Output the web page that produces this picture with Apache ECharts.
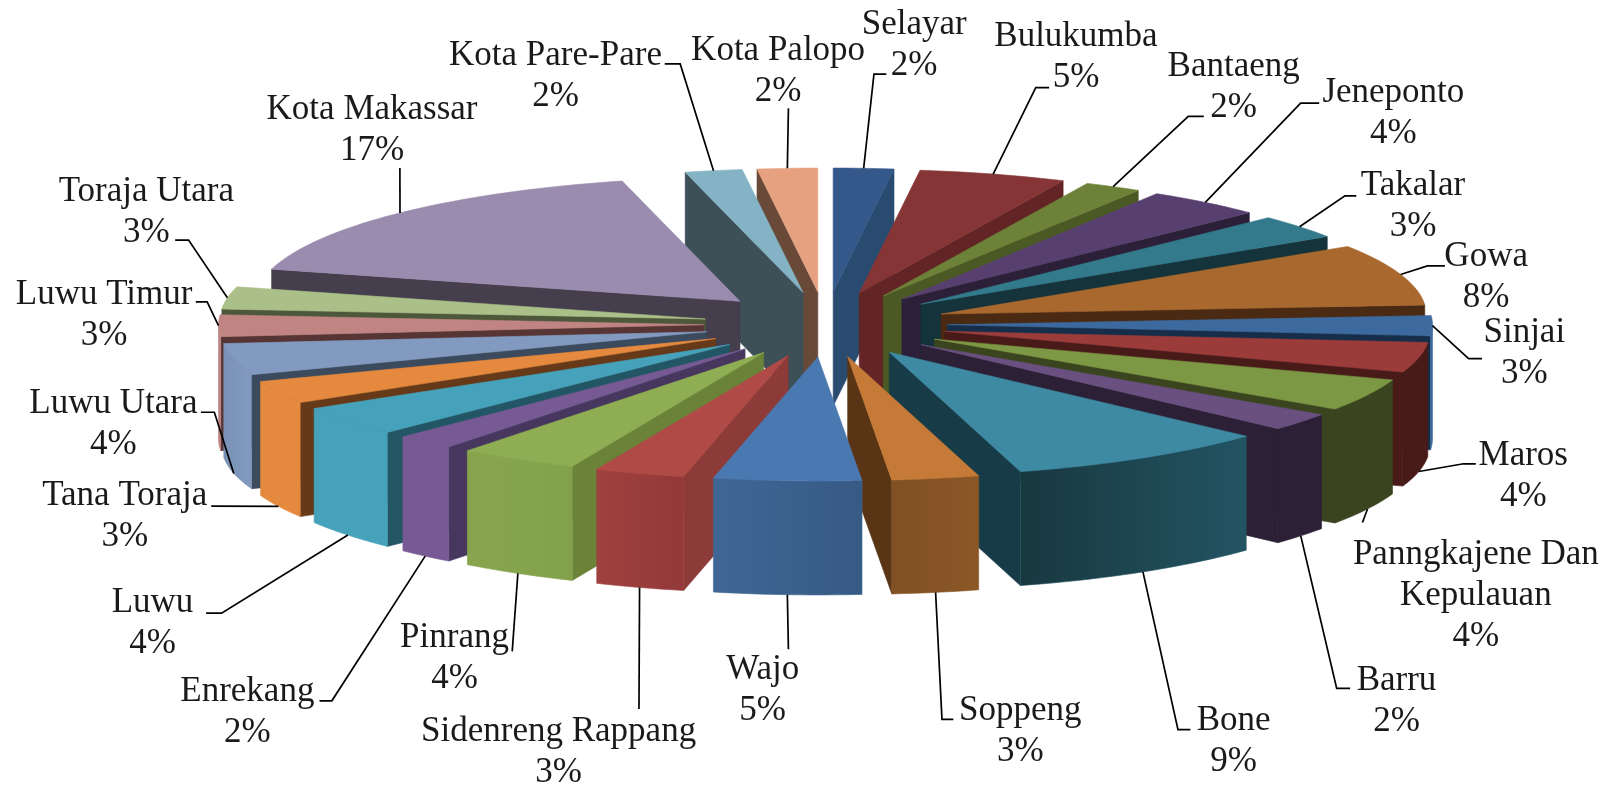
<!DOCTYPE html>
<html>
<head>
<meta charset="utf-8">
<style>html,body{margin:0;padding:0;background:#fff}#c{width:1616px;height:787px}</style>
<script src="https://cdn.jsdelivr.net/npm/echarts@6/dist/echarts.min.js"></script>
</head>
<body>
<div id="c"></div>
<script>
// ---- data ----
const categories = ['Selayar','Bulukumba','Bantaeng','Jeneponto','Takalar','Gowa','Sinjai','Maros',
  'Panngkajene Dan\nKepulauan','Barru','Bone','Soppeng','Wajo','Sidenreng Rappang','Pinrang','Enrekang',
  'Luwu','Tana Toraja','Luwu Utara','Luwu Timur','Toraja Utara','Kota Makassar','Kota Pare-Pare','Kota Palopo'];
const shares = [2,4.9,1.9,3.9,3.1,8,2.6,3.9,4.2,2.3,8.8,2.9,4.9,3,4,2,3.9,3,4.1,2.8,2.9,16.9,1.9,2];
const percentLabels = ['2%','5%','2%','4%','3%','8%','3%','4%','4%','2%','9%','3%','5%','3%','4%','2%','4%','3%','4%','3%','3%','17%','2%','2%'];

// ---- colours ----
const topColors = ['#34588a','#853535','#6c8238','#57406f','#337a8c','#a9682e','#3d6a9e','#9b3c3b',
  '#7d9844','#695080','#3f8aa3','#c67a37','#4a78b0','#b04a46','#8fae53','#775a94',
  '#46a1ba','#e4893e','#829abf','#c08583','#abbf88','#9a8cae','#83b3c5','#e6a280'];
const edgeColors = ['#2a4b70','#622424','#4b5a25','#2c2038','#14333b','#4a2a12','#162e49','#481a18',
  '#3a4520','#2b2036','#183c47','#5a3515','#375a85','#8d3b38','#6b8239','#47365e',
  '#235665','#663a19','#3c4a5e','#573535','#4d583a','#443e4d','#3d5057','#694a38'];
const wallLeft = ['#2a4b70','#622424','#4b5a25','#2c2038','#14333b','#4a2a12','#3d6a9e','#481a18',
  '#3a4520','#2b2036','#235463','#8c5727','#3f6694','#9f413e','#88a54e','#775a94',
  '#46a1ba','#e4893e','#7b92b6','#b98280','#abbf88','#9a8cae','#83b3c5','#e6a280'];
const wallRight = ['#2a4b70','#622424','#4b5a25','#2c2038','#14333b','#4a2a12','#3d6a9e','#481a18',
  '#3a4520','#2b2036','#18383f','#805023','#375a85','#93393a','#83a04b','#775a94',
  '#46a1ba','#e4893e','#829abf','#c08583','#abbf88','#9a8cae','#83b3c5','#e6a280'];

// ---- layout ----
const S = 1616 / 1568;
const CX = 825.5, CY = 324.5, EX = 122, EY = 32.5, RX = 485, RY = 124, H = 114;
const FONT_SIZE = 35, LINE_H = 41;
// label block centres and elbow points, in the 1568-wide picture's units
const labelCentres = [[887,44],[1044,56],[1197,85],[1352,110],[1371,200],[1442,269],[1479,343],[1478,462],
  [1432,578],[1355,680],[1197,719],[990,710],[740,670],[542,730],[441,639],[240,691],
  [148,605],[121,501],[110,412],[101,306],[142,206],[361,126],[539,74],[755,69]];
const elbows = [
  [[860,72],[848,72]],[[1018,85],[1005,85]],[[1168,113],[1153,113]],[[1280,100],[1262,100]],
  [[1316,190],[1305,190]],[[1402,258],[1385,258]],[[1438,348],[1425,348]],[[1432,450],[1420,450]],
  [[1322,507]],[[1310,668],[1297,668]],[[1155,708],[1143,708]],[[925,698],[914,698]],
  [[765,630]],[[620,688]],[[497,632]],[[310,680],[322,680]],
  [[200,595],[215,595]],[[205,491]],[[195,400],[208,400]],[[190,293],[201,293]],
  [[170,233],[183,233]],[[388,163]],[[645,62],[660,62]],[[765,105]]];

// ---- geometry from the shares ----
const total = shares.reduce((a, b) => a + b, 0);
let run = 0;
const slices = shares.map((v, i) => {
  const a = echarts.number.linearMap(run, [0, total], [0, 360]);
  run += v;
  const b = echarts.number.linearMap(run, [0, total], [0, 360]);
  return { i, a, b, mid: (a + b) / 2 };
});
const rad = d => d * Math.PI / 180;
function apex(s) {
  const t = rad(s.mid);
  return [CX + EX * Math.sin(t), CY - EY * Math.cos(t)];
}
function rim(s, deg) {
  const p = apex(s), t = rad(deg);
  return [p[0] + RX * Math.sin(t), p[1] - RY * Math.cos(t)];
}
const down = p => [p[0], p[1] + H];
function arc(s, from, to) {
  const n = Math.max(2, Math.ceil((to - from) / 1.5)), pts = [];
  for (let k = 0; k <= n; k++) pts.push(rim(s, from + (to - from) * k / n));
  return pts;
}

function renderSlice(params, api) {
  const s = slices[api.value(0)], i = s.i, p = apex(s), kids = [];
  const poly = (points, fill, edge) => kids.push({ type: 'polygon', shape: { points },
    style: { fill, stroke: edge || null, lineWidth: edge ? 0.6 : 0 } });
  if (Math.sin(rad(s.a)) < 0) {
    const r = rim(s, s.a);
    poly([p, r, down(r), down(p)], edgeColors[i], edgeColors[i]);
  }
  if (Math.sin(rad(s.b)) > 0) {
    const r = rim(s, s.b);
    poly([p, r, down(r), down(p)], edgeColors[i], edgeColors[i]);
  }
  const f = Math.max(s.a, 90), t = Math.min(s.b, 270);
  if (t > f) {
    const top = arc(s, f, t);
    const grad = new echarts.graphic.LinearGradient(0, 0, 1, 0, [
      { offset: 0, color: s.mid < 180 ? wallRight[i] : wallLeft[i] },
      { offset: 1, color: s.mid < 180 ? wallLeft[i] : wallRight[i] }]);
    poly(top.concat(top.map(down).reverse()), grad, wallLeft[i]);
  }
  poly([p].concat(arc(s, s.a, s.b)), topColors[i], topColors[i]);
  return { type: 'group', children: kids };
}

function renderLabel(params, api) {
  const s = slices[api.value(0)], i = s.i, t = rad(s.mid);
  const r = rim(s, s.mid), end = Math.cos(t) < -0.05 ? down(r) : r;
  const line = elbows[i].map(p => [p[0] * S, p[1] * S]).concat([end]);
  const c = labelCentres[i];
  return { type: 'group', children: [
    { type: 'polyline', shape: { points: line }, style: { fill: null, stroke: '#000', lineWidth: 1.7 } },
    { type: 'text', style: { text: categories[i] + '\n' + percentLabels[i], x: c[0] * S, y: c[1] * S,
        align: 'center', verticalAlign: 'middle', fontFamily: 'Liberation Serif', fontSize: FONT_SIZE,
        lineHeight: LINE_H, fill: '#1a1a1a' } }
  ] };
}

const paintOrder = slices.slice().sort((p, q) => Math.cos(rad(q.mid)) - Math.cos(rad(p.mid))).map(s => s.i);
const chart = echarts.init(document.getElementById('c'), null, { renderer: 'canvas' });
chart.setOption({
  animation: false,
  backgroundColor: '#fff',
  series: [
    { type: 'custom', coordinateSystem: 'none', silent: true, z: 2, renderItem: renderSlice,
      data: paintOrder.map(i => ({ name: categories[i], value: [i, shares[i]] })) },
    { type: 'custom', coordinateSystem: 'none', silent: true, z: 3, renderItem: renderLabel,
      data: categories.map((n, i) => ({ name: n, value: [i, shares[i]] })) }
  ]
});
</script>
</body>
</html>
